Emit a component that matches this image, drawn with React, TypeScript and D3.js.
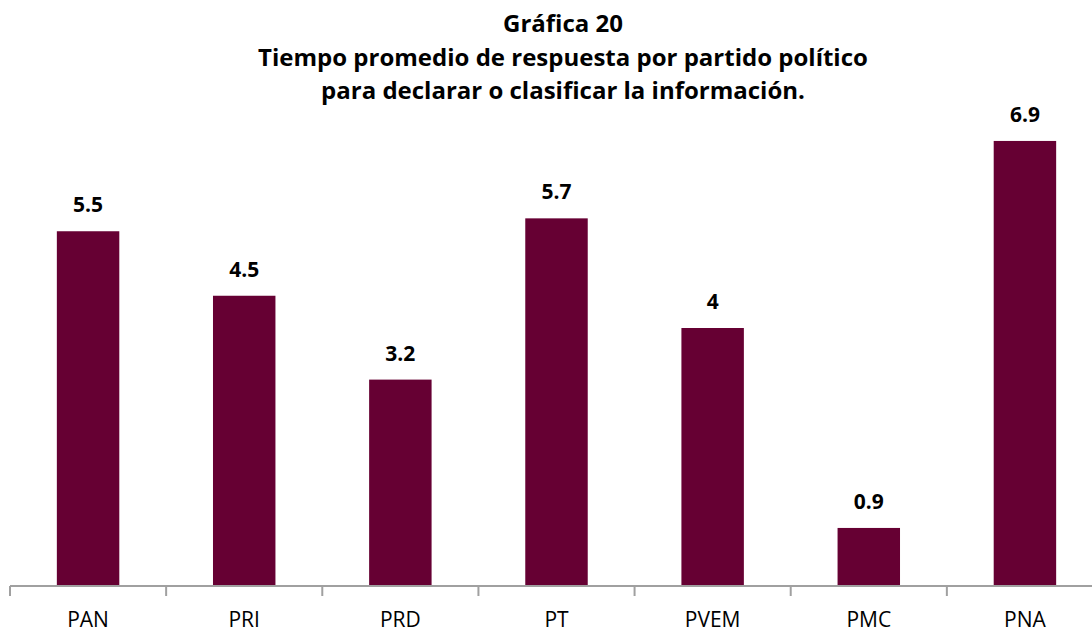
import * as d3 from "d3"
import React from "react"

const categories = ["PAN", "PRI", "PRD", "PT", "PVEM", "PMC", "PNA"]
const values = [5.5, 4.5, 3.2, 5.7, 4, 0.9, 6.9]
const titleLines = [
  "Gráfica 20",
  "Tiempo promedio de respuesta por partido político",
  "para declarar o clasificar la información.",
]

export default function App() {
  const width = 1092
  const height = 633
  const left = 10
  const right = 1103
  const baseY = 586
  const font = "'Open Sans', sans-serif"

  const x = d3.scaleBand<string>().domain(categories).range([left, right]).paddingInner(0.6).paddingOuter(0.3)
  const step = x.step()
  const y = d3.scaleLinear().domain([0, 8]).range([baseY, 70])

  return (
    <svg width={width} height={height} style={{ position: "fixed", left: 0, top: 0, background: "#fff" }}>
      {titleLines.map((t, i) => (
        <text key={i} x={563} y={32 + i * 33.5} textAnchor="middle" fontFamily={font} fontWeight="bold" fontSize={24} fill="#000">
          {t}
        </text>
      ))}
      {categories.map((c, i) => {
        const v = values[i]
        const bx = x(c) as number
        return (
          <g key={c}>
            <rect x={bx} y={y(v)} width={x.bandwidth()} height={baseY - y(v)} fill="#660033" />
            <text x={bx + x.bandwidth() / 2} y={y(v) - 19} textAnchor="middle" fontFamily={font} fontWeight="bold" fontSize={21} fill="#000">
              {d3.format("")(v)}
            </text>
            <text x={bx + x.bandwidth() / 2} y={627} textAnchor="middle" fontFamily={font} fontSize={21} fill="#000">
              {c}
            </text>
          </g>
        )
      })}
      <line x1={left} x2={width} y1={baseY} y2={baseY} stroke="#a0a0a0" strokeWidth={2} />
      {d3.range(categories.length + 1).map(i => (
        <line key={i} x1={left + i * step} x2={left + i * step} y1={baseY} y2={baseY + 10} stroke="#a0a0a0" strokeWidth={2} />
      ))}
    </svg>
  )
}
